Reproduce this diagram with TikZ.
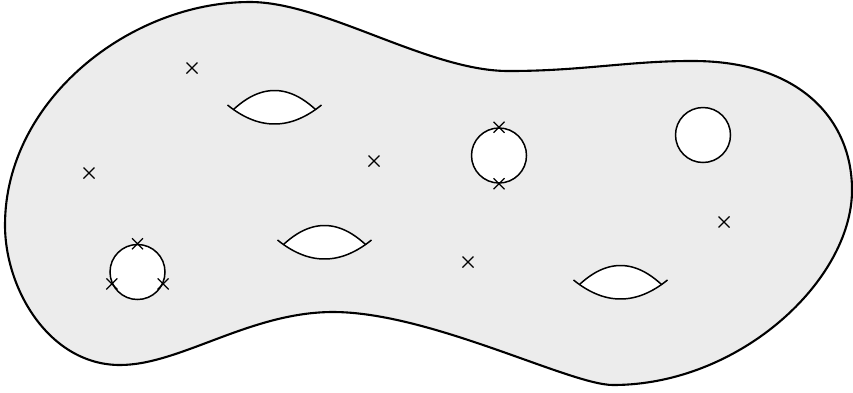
\documentclass[tikz,border=0pt]{standalone}
\definecolor{surf}{RGB}{236,236,236}
\tikzset{
  outline/.style={draw=black, line width=2.1pt, fill=surf},
  hole/.style={draw=black, line width=1.5pt, fill=white},
  handleline/.style={draw=black, line width=1.5pt},
  mark/.pic={\draw[line width=1.2pt] (-5.5,-5.5) -- (5.5,5.5) (-5.5,5.5) -- (5.5,-5.5);},
  handle/.pic={
    \fill[white] plot[domain=-41:41,samples=40] (\x,{4.5-19*(1-(\x/41)^2)})
      -- plot[domain=41:-41,samples=40] (\x,{19*(1-(\x/47)^2)}) -- cycle;
    \draw[handleline] plot[domain=-41:41,samples=40] (\x,{4.5-19*(1-(\x/41)^2)});
    \draw[handleline] plot[domain=-47:47,samples=40] (\x,{19*(1-(\x/47)^2)});
  }
}
\begin{document}
\begin{tikzpicture}[x=1pt,y=-1pt]
\useasboundingbox (0,0) rectangle (853,392);
\draw[outline] (5,225)
  .. controls (5,100) and (130,2) .. (250,2)
  .. controls (325,2) and (430,72) .. (510,71)
  .. controls (580,71) and (630,61) .. (690,61)
  .. controls (800,60) and (852,120) .. (852,190)
  .. controls (852,280) and (740,385) .. (613,385)
  .. controls (570,385) and (430,312) .. (333,312)
  .. controls (250,312) and (180,365) .. (120,365)
  .. controls (50,365) and (5,290) .. (5,225) -- cycle;
% handles
\pic at (274.5,105) {handle};
\pic at (324.5,240) {handle};
\pic at (620.5,280) {handle};
% holes
\node[circle, hole, minimum size=55pt, inner sep=0pt] (ha) at (137.5,272) {};
\node[circle, hole, minimum size=55pt, inner sep=0pt] (hb) at (499,155.5) {};
\node[circle, hole, minimum size=55pt, inner sep=0pt] (hc) at (703,135) {};
% marked points on boundary circles
\pic at (ha.90) {mark};
\pic at (ha.-155) {mark};
\pic at (ha.-25) {mark};
\pic at (hb.90) {mark};
\pic at (hb.-90) {mark};
% interior marked points
\pic at (192,68) {mark};
\pic at (89,173) {mark};
\pic at (374,161) {mark};
\pic at (468,262) {mark};
\pic at (724,222) {mark};
\end{tikzpicture}
\end{document}
